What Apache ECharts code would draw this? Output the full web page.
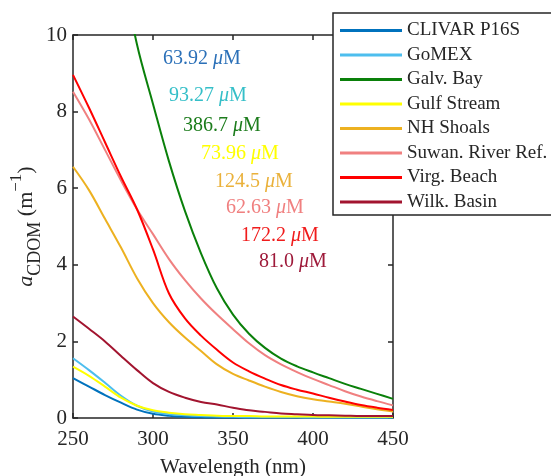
<!DOCTYPE html>
<html>
<head>
<meta charset="utf-8">
<script src="https://cdn.jsdelivr.net/npm/echarts@6/dist/echarts.min.js"></script>
<style>
  html, body { margin: 0; padding: 0; background: #fff; }
  #chart { width: 551px; height: 476px; }
</style>
</head>
<body>
<div id="chart"></div>
<script>
// wavelength grid (nm)
const wavelengths = [250, 260, 270, 280, 290, 300, 310, 320, 330, 340, 350, 360, 370, 380, 390, 400, 410, 420, 430, 440, 450];

// a_CDOM (m^-1)
const clivar   = [1.04, 0.82, 0.60, 0.40, 0.22, 0.11, 0.06, 0.03, 0.02, 0.01, 0.01, 0.01, 0.01, 0.01, 0.01, 0.01, 0.01, 0.01, 0.01, 0.01, 0.01];
const gomex    = [1.56, 1.25, 0.92, 0.58, 0.32, 0.17, 0.10, 0.07, 0.05, 0.04, 0.03, 0.02, 0.02, 0.02, 0.02, 0.01, 0.01, 0.01, 0.01, 0.01, 0.01];
const galvBay  = [23, 18, 14.5, 11.9, 9.75, 8.2, 6.7, 5.4, 4.3, 3.38, 2.7, 2.2, 1.83, 1.55, 1.35, 1.19, 1.04, 0.89, 0.76, 0.63, 0.50];
const gulf     = [1.34, 1.10, 0.82, 0.53, 0.32, 0.20, 0.14, 0.10, 0.08, 0.06, 0.05, 0.05, 0.04, 0.04, 0.04, 0.04, 0.03, 0.03, 0.03, 0.03, 0.03];
const nhShoals = [6.56, 5.95, 5.2, 4.45, 3.65, 3.0, 2.5, 2.1, 1.75, 1.40, 1.15, 0.98, 0.82, 0.68, 0.57, 0.49, 0.43, 0.37, 0.30, 0.23, 0.17];
const suwannee = [8.52, 7.8, 7.0, 6.2, 5.45, 4.8, 4.15, 3.6, 3.12, 2.70, 2.32, 1.95, 1.64, 1.40, 1.20, 1.02, 0.86, 0.70, 0.56, 0.44, 0.33];
const virginia = [8.96, 8.1, 7.2, 6.3, 5.45, 4.4, 3.25, 2.6, 2.15, 1.78, 1.45, 1.22, 1.03, 0.86, 0.74, 0.64, 0.53, 0.43, 0.34, 0.27, 0.21];
const wilkes   = [2.65, 2.33, 2.0, 1.62, 1.25, 0.91, 0.68, 0.53, 0.42, 0.35, 0.27, 0.20, 0.16, 0.12, 0.10, 0.08, 0.07, 0.06, 0.05, 0.05, 0.05];

const names  = ['CLIVAR P16S', 'GoMEX', 'Galv. Bay', 'Gulf Stream', 'NH Shoals', 'Suwan. River Ref.', 'Virg. Beach', 'Wilk. Basin'];
const values = [clivar, gomex, galvBay, gulf, nhShoals, suwannee, virginia, wilkes];
const colors = ['#0072BD', '#4DBEEE', '#0A800A', '#FFFF00', '#EDB120', '#F08080', '#FF0000', '#A2142F'];

// DOC concentration labels
const docLabels = ['63.92', '93.27', '386.7', '73.96', '124.5', '62.63', '172.2', '81.0'];
const docColors = ['#2B70B8', '#35BFC8', '#1C7C1C', '#FFFF00', '#EAB13A', '#F08080', '#F01C1C', '#9E1A3A'];

const FONT = '"Liberation Serif", "DejaVu Serif", serif';
const AXIS_COLOR = '#262626';

const chart = echarts.init(document.getElementById('chart'));

const series = names.map((name, i) => ({
  name: name,
  type: 'line',
  showSymbol: false,
  smooth: 0.35,
  data: wavelengths.map((w, j) => [w, values[i][j]]),
  lineStyle: { color: colors[i], width: 2 },
  itemStyle: { color: colors[i] },
  clip: true
}));

const labelLeft = [163, 169, 183, 201, 215, 226, 241, 259];
const labelY    = [60, 97, 127, 155, 183, 209, 237, 263];

const labels = docLabels.map((txt, i) => ({
  type: 'text',
  left: labelLeft[i],
  top: labelY[i] - 11,
  z: 10,
  style: {
    text: '{n|' + txt + ' }{m|μ}{n|M}',
    rich: {
      n: { fontFamily: FONT, fontSize: 20, fill: docColors[i] },
      m: { fontFamily: FONT, fontSize: 20, fontStyle: 'italic', fill: docColors[i] }
    }
  }
}));

// legend box, runs off the right edge like the original
labels.push({
  type: 'rect',
  z: 7,
  shape: { x: 333, y: 13, width: 300, height: 202 },
  style: { fill: '#fff', stroke: AXIS_COLOR, lineWidth: 1.5 }
});

function frameAxis(extra) {
  return Object.assign({
    type: 'value',
    nameMoveOverlap: false,
    axisLine: { show: true, onZero: false, lineStyle: { color: AXIS_COLOR, width: 1.5 } },
    axisTick: { show: true, inside: true, length: 5, lineStyle: { color: AXIS_COLOR, width: 1.5 } },
    splitLine: { show: false },
    axisLabel: { show: false }
  }, extra);
}

chart.setOption({
  backgroundColor: '#fff',
  animation: false,
  grid: { left: 73, right: 158, top: 35, bottom: 58, containLabel: false, outerBoundsMode: 'none' },
  xAxis: [
    frameAxis({
      min: 250, max: 450, interval: 50,
      position: 'bottom',
      name: 'Wavelength (nm)',
      nameLocation: 'middle',
      nameGap: 39,
      nameTextStyle: { fontFamily: FONT, fontSize: 21, color: AXIS_COLOR },
      axisLabel: { show: true, margin: 11, fontFamily: FONT, fontSize: 21, color: AXIS_COLOR }
    }),
    frameAxis({ min: 250, max: 450, interval: 50, position: 'top' })
  ],
  yAxis: [
    frameAxis({
      min: 0, max: 10, interval: 2,
      position: 'left',
      name: '{a|a}{s|CDOM}{n| (m}{p|−1}{n|)}',
      nameLocation: 'middle',
      nameGap: 29,
      nameTextStyle: {
        color: AXIS_COLOR,
        rich: {
          a: { fontFamily: FONT, fontSize: 22, fontStyle: 'italic', lineHeight: 36, color: AXIS_COLOR },
          n: { fontFamily: FONT, fontSize: 22, lineHeight: 36, color: AXIS_COLOR },
          s: { fontFamily: FONT, fontSize: 18, lineHeight: 18, verticalAlign: 'bottom', color: AXIS_COLOR },
          p: { fontFamily: FONT, fontSize: 17, lineHeight: 17, verticalAlign: 'top', color: AXIS_COLOR }
        }
      },
      axisLabel: { show: true, margin: 6, fontFamily: FONT, fontSize: 21, color: AXIS_COLOR }
    }),
    frameAxis({ min: 0, max: 10, interval: 2, position: 'right' })
  ],
  legend: {
    data: names,
    orient: 'vertical',
    left: 333,
    top: 13,
    icon: 'rect',
    itemWidth: 62,
    itemHeight: 3,
    itemGap: 3.5,
    padding: [7, 10, 4, 7],
    selectedMode: false,
    z: 8,
    textStyle: { fontFamily: FONT, fontSize: 19, lineHeight: 21, color: AXIS_COLOR, padding: [0, 0, 0, 0] }
  },
  graphic: labels,
  series: series
});
</script>
</body>
</html>
